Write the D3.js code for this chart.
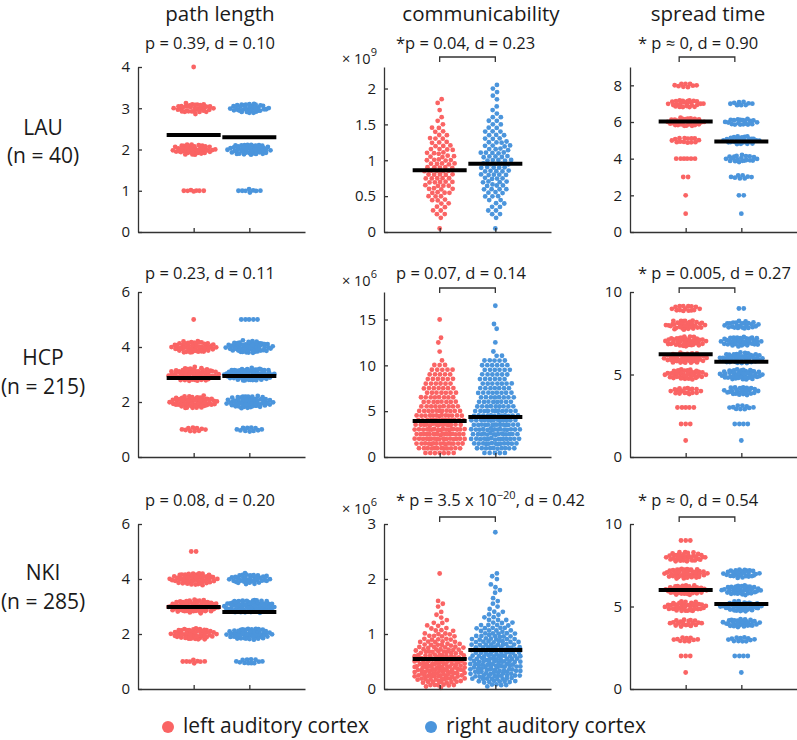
<!DOCTYPE html>
<html>
<head>
<meta charset="utf-8">
<script src="https://cdn.jsdelivr.net/npm/d3@7"></script>
<style>
  body { margin: 0; background: #fff; }
  text { font-family: "Open Sans", sans-serif; fill: #1a1a1a; }
</style>
</head>
<body>
<svg id="chart" width="797" height="740"></svg>
<script>
// Labels
const rowNames = ["LAU", "HCP", "NKI"];
const rowSizes = ["(n = 40)", "(n = 215)", "(n = 285)"];
const colNames = ["path length", "communicability", "spread time"];
const groupNames = ["left auditory cortex", "right auditory cortex"];
const commExponent = ["9", "6", "6"];

// Stats text above each panel (row by row)
const statText = [
  ["p = 0.39, d = 0.10", "*p = 0.04, d = 0.23", "* p \u2248 0, d = 0.90"],
  ["p = 0.23, d = 0.11", "p = 0.07, d = 0.14", "* p = 0.005, d = 0.27"],
  ["p = 0.08, d = 0.20", "* p = 3.5 x 10|\u221220|, d = 0.42", "* p \u2248 0, d = 0.54"]
];

// Y axis limits and ticks
const yMax = [[4, 2.3, 9], [6, 18, 10], [6, 3, 10]];
const yTicks = [
  [[0, 1, 2, 3, 4], [0, 0.5, 1, 1.5, 2], [0, 2, 4, 6, 8]],
  [[0, 2, 4, 6], [0, 5, 10, 15], [0, 5, 10]],
  [[0, 2, 4, 6], [0, 1, 2, 3], [0, 5, 10]]
];

// Group means (left, right)
const pathMeans = [[2.35, 2.30], [2.87, 2.95], [2.98, 2.80]];
const commMeans = [[0.86, 0.95], [3.93, 4.36], [0.545, 0.71]];
const spreadMeans = [[6.03, 4.93], [6.22, 5.78], [6.00, 5.15]];

// Path length: number of points at each level
const pathLevels = [1, 2, 3, 4, 5];
const lauPathL = [7, 45, 36, 1, 0];
const lauPathR = [8, 48, 35, 0, 0];
const hcpPathL = [10, 62, 76, 54, 1];
const hcpPathR = [11, 60, 78, 60, 5];
const nkiPathL = [8, 52, 80, 58, 2];
const nkiPathR = [12, 55, 80, 40, 0];

// Spread time: number of points at each level
const spreadLevels = [1, 2, 3, 4, 5, 6, 7, 8, 9];
const lauSpreadL = [1, 1, 2, 6, 14, 30, 25, 9, 0];
const lauSpreadR = [1, 2, 8, 20, 28, 20, 9, 0, 0];
const hcpSpreadL = [1, 3, 5, 18, 40, 45, 40, 35, 15];
const hcpSpreadR = [1, 4, 10, 25, 45, 45, 40, 25, 2];
const nkiSpreadL = [1, 3, 10, 20, 40, 40, 45, 35, 3];
const nkiSpreadR = [1, 4, 12, 30, 40, 35, 28, 0, 0];

// Communicability: binned values and number of points per bin
const lauCommBins = [0.05, 0.1, 0.15, 0.2, 0.25, 0.3, 0.35, 0.4, 0.45, 0.5, 0.55, 0.6, 0.65, 0.7, 0.75, 0.8, 0.85, 0.9, 0.95, 1.0,
  1.05, 1.1, 1.15, 1.2, 1.25, 1.3, 1.35, 1.4, 1.45, 1.5, 1.55, 1.6, 1.65, 1.7, 1.75, 1.8, 1.85, 1.9, 1.95, 2.0, 2.05];
const lauCommL = [1, 0, 0, 1, 2, 2, 2, 2, 3, 3, 4, 4, 4, 5, 5, 5, 5, 5, 5, 5, 4, 4, 4, 3, 3, 3, 2, 2, 2, 1, 1, 1, 0, 1, 0, 1, 1, 0, 0, 0, 0];
const lauCommR = [1, 0, 0, 1, 2, 2, 2, 2, 2, 3, 3, 4, 4, 4, 4, 5, 5, 5, 5, 5, 5, 5, 4, 4, 4, 3, 3, 3, 2, 2, 2, 2, 1, 1, 1, 0, 1, 1, 1, 1, 1];

const hcpCommBins = [0.5, 1, 1.5, 2, 2.5, 3, 3.5, 4, 4.5, 5, 5.5, 6, 6.5, 7, 7.5, 8, 8.5, 9, 9.5, 10,
  10.5, 11, 11.5, 12, 12.5, 13, 13.5, 14, 14.5, 15, 15.5, 16, 16.5];
const hcpCommL = [7, 12, 15, 17, 17, 17, 15, 14, 13, 11, 9, 8, 8, 7, 7, 6, 6, 5, 5, 3, 1, 0, 1, 0, 1, 1, 0, 0, 0, 1, 0, 0, 0];
const hcpCommR = [5, 10, 13, 15, 15, 15, 14, 13, 12, 11, 9, 8, 8, 8, 7, 7, 6, 6, 6, 6, 5, 2, 1, 0, 1, 0, 0, 1, 1, 0, 0, 0, 1];

const nkiCommBins = [0.05, 0.1, 0.15, 0.2, 0.25, 0.3, 0.35, 0.4, 0.45, 0.5, 0.55, 0.6, 0.65, 0.7, 0.75, 0.8, 0.85, 0.9, 0.95, 1.0,
  1.05, 1.1, 1.15, 1.2, 1.25, 1.3, 1.35, 1.4, 1.45, 1.5, 1.55, 1.6, 1.65, 1.7, 1.75, 1.8, 1.85, 1.9, 1.95, 2.0, 2.05, 2.1, 2.85];
const nkiCommL = [2, 6, 9, 11, 12, 13, 13, 13, 12, 12, 11, 10, 9, 8, 7, 6, 5, 5, 4, 4, 3, 2, 2, 2, 1, 1, 1, 1, 0, 1, 1, 1, 0, 0, 0, 0, 0, 0, 0, 0, 0, 1, 0];
const nkiCommR = [1, 4, 7, 9, 10, 11, 11, 11, 11, 11, 11, 10, 10, 9, 9, 8, 8, 7, 6, 6, 5, 5, 4, 3, 3, 2, 2, 2, 1, 1, 1, 1, 1, 0, 1, 1, 1, 1, 0, 1, 1, 1, 1];

const colors = ["#fa6464", "#4b95dc"];

// Layout
const colX = [138, 384, 630];
const rowTop = [67, 292, 524];
const axisW = 167;
const axisH = 165;
const dotR = 2.4;
const spread = 25;
const halfBar = 27;

// Builds the point list of one group from levels and counts
function expand(levels, counts) {
  return levels.flatMap((v, i) => d3.range(counts[i]).map(() => v));
}

const panelData = [
  [
    { levels: pathLevels, L: lauPathL, R: lauPathR, means: pathMeans[0] },
    { levels: lauCommBins, L: lauCommL, R: lauCommR, means: commMeans[0] },
    { levels: spreadLevels, L: lauSpreadL, R: lauSpreadR, means: spreadMeans[0] }
  ],
  [
    { levels: pathLevels, L: hcpPathL, R: hcpPathR, means: pathMeans[1] },
    { levels: hcpCommBins, L: hcpCommL, R: hcpCommR, means: commMeans[1] },
    { levels: spreadLevels, L: hcpSpreadL, R: hcpSpreadR, means: spreadMeans[1] }
  ],
  [
    { levels: pathLevels, L: nkiPathL, R: nkiPathR, means: pathMeans[2] },
    { levels: nkiCommBins, L: nkiCommL, R: nkiCommR, means: commMeans[2] },
    { levels: spreadLevels, L: nkiSpreadL, R: nkiSpreadR, means: spreadMeans[2] }
  ]
];

// Swarm layout with a force simulation, x clamped to the group width.
// Continuous panels get a weaker pull to the centre and a looser packing.
function swarm(values, yScale, cx, continuous) {
  const nodes = values.map((v, i) => ({
    v: v,
    ty: yScale(v),
    x: cx + (((i * 0.618034) % 1) - 0.5) * 24,
    y: yScale(v)
  }));
  const sim = d3.forceSimulation(nodes)
    .alphaDecay(0)
    .velocityDecay(0.35)
    .force("x", d3.forceX(cx).strength(continuous ? 0.015 : 0.03))
    .force("y", d3.forceY(d => d.ty).strength(continuous ? 0.45 : 0.5))
    .force("collide", d3.forceCollide(dotR + (continuous ? 0.35 : 0.1)).strength(continuous ? 0.6 : 0.5))
    .stop();
  for (let i = 0; i < 250; i++) {
    sim.tick();
    nodes.forEach(d => { d.x = Math.max(cx - spread, Math.min(cx + spread, d.x)); });
  }
  return nodes;
}

const svg = d3.select("#chart");

// Column titles
const titleX = [220, 481, 708];
colNames.forEach((name, c) => {
  svg.append("text")
    .attr("x", titleX[c])
    .attr("y", 21)
    .attr("text-anchor", "middle")
    .style("font-size", "20.5px")
    .text(name);
});

// Row labels
const rowLabelY = [[135, 163], [365, 394], [580, 609]];
rowNames.forEach((name, r) => {
  svg.append("text")
    .attr("x", 43).attr("y", rowLabelY[r][0])
    .attr("text-anchor", "middle")
    .style("font-size", "21px")
    .text(name);
  svg.append("text")
    .attr("x", 43).attr("y", rowLabelY[r][1])
    .attr("text-anchor", "middle")
    .style("font-size", "21px")
    .text(rowSizes[r]);
});

const statX = [145, 396, 638];
const statY = [49, 279, 506];
const bracketY = [57, 288, 517];
const expY = [64, 286, 514];

for (let r = 0; r < 3; r++) {
  for (let c = 0; c < 3; c++) {
    const p = panelData[r][c];
    const g = svg.append("g")
      .attr("transform", "translate(" + colX[c] + "," + rowTop[r] + ")");

    const xScale = d3.scaleLinear().domain([0, 3]).range([0, axisW]);
    const yScale = d3.scaleLinear().domain([0, yMax[r][c]]).range([axisH, 0]);

    // Points
    [p.L, p.R].forEach((counts, k) => {
      const cx = xScale(k + 1);
      const nodes = swarm(expand(p.levels, counts), yScale, cx, c === 1);
      g.append("g")
        .selectAll("circle")
        .data(nodes)
        .join("circle")
        .attr("cx", d => d.x)
        .attr("cy", d => d.y)
        .attr("r", dotR)
        .attr("fill", colors[k]);
    });

    // Mean bars
    p.means.forEach((m, k) => {
      g.append("line")
        .attr("x1", xScale(k + 1) - halfBar)
        .attr("x2", xScale(k + 1) + halfBar)
        .attr("y1", yScale(m))
        .attr("y2", yScale(m))
        .attr("stroke", "#000")
        .attr("stroke-width", 4);
    });

    // Axes (ticks pointing inward)
    const yAxis = g.append("g")
      .call(d3.axisLeft(yScale).tickValues(yTicks[r][c]).tickFormat(d3.format("~g"))
        .tickSize(-4).tickSizeOuter(0).tickPadding(8));
    const xAxis = g.append("g")
      .attr("transform", "translate(0," + axisH + ")")
      .call(d3.axisBottom(xScale).tickValues([1, 2]).tickSize(-4).tickSizeOuter(0).tickFormat(""));
    [yAxis, xAxis].forEach(a => {
      a.select(".domain").attr("stroke", "#333").attr("stroke-width", 1.3);
      a.selectAll(".tick line").attr("stroke", "#333").attr("stroke-width", 1.3);
      a.selectAll(".tick text")
        .style("font-size", "15px")
        .style("font-family", "'Open Sans', sans-serif")
        .attr("fill", "#1a1a1a");
    });

    // Stats text
    const parts = statText[r][c].split("|");
    const t = svg.append("text")
      .attr("x", statX[c])
      .attr("y", statY[r])
      .style("font-size", "16.5px");
    t.append("tspan").text(parts[0]);
    if (parts.length > 1) {
      t.append("tspan").attr("dy", -7).style("font-size", "11px").text(parts[1]);
      t.append("tspan").attr("dy", 7).text(parts[2]);
    }

    // Significance bracket
    if (c > 0) {
      const shift = c === 2 ? -6.5 : 0;
      const bx1 = colX[c] + xScale(1) + shift;
      const bx2 = colX[c] + xScale(2) + shift;
      const by = bracketY[r];
      svg.append("path")
        .attr("d", "M" + bx1 + "," + (by + 5) + "V" + by + "H" + bx2 + "V" + (by + 5))
        .attr("fill", "none")
        .attr("stroke", "#333")
        .attr("stroke-width", 1.3);
    }

    // Scale exponent for communicability
    if (c === 1) {
      const e = svg.append("text")
        .attr("x", colX[c] - 42)
        .attr("y", expY[r])
        .style("font-size", "14.5px");
      e.append("tspan").text("\u00d7 10");
      e.append("tspan").attr("dy", -8).style("font-size", "11px").text(commExponent[r]);
    }
  }
}

// Legend
const legendX = [168, 431];
groupNames.forEach((name, k) => {
  svg.append("circle")
    .attr("cx", legendX[k]).attr("cy", 727)
    .attr("r", 6)
    .attr("fill", colors[k]);
  svg.append("text")
    .attr("x", legendX[k] + 15).attr("y", 733)
    .style("font-size", "21px")
    .text(name);
});
</script>
</body>
</html>
